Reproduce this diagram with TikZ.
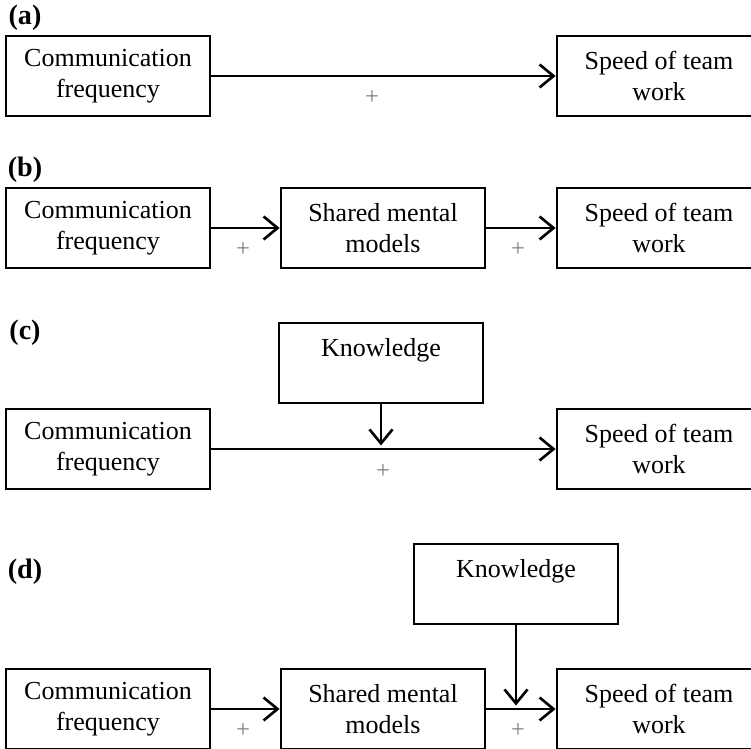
\documentclass[tikz,border=0pt]{standalone}
\usepackage{fontspec}
\setmainfont{Liberation Serif}
\usetikzlibrary{arrows.meta,positioning}
\begin{document}
\begin{tikzpicture}[x=0.02cm,y=-0.02cm,
  box/.style={draw,line width=1.6pt,minimum width=4.08cm,minimum height=1.6cm,inner sep=0pt,align=center,
    font=\fontsize{14.8}{17.6}\selectfont},
  link/.style={line width=1.5pt,-{Straight Barb[length=2.8mm,width=4.6mm,line width=1.5pt]}},
  plus/.style={text=gray,font=\fontsize{14}{14}\selectfont},
  panel/.style={font=\fontsize{16}{19}\selectfont\bfseries}]
\useasboundingbox (0,0) rectangle (751,749);
\clip (0,0) rectangle (751,749);
% (a)
\node[panel] (la) at (25,18) {(a)};
\node[box] (a1) at (108,76) {Communication\\frequency};
\node[box] (a2) at (659,76) {Speed of team\\work};
\draw[link] (a1) -- (a2);
\node[plus] (pa) at (372,98) {+};
% (b)
\node[panel] (lb) at (25,170) {(b)};
\node[box] (b1) at (108,228) {Communication\\frequency};
\node[box] (b2) at (383,228) {Shared mental\\models};
\node[box] (b3) at (659,228) {Speed of team\\work};
\draw[link] (b1) -- (b2);
\draw[link] (b2) -- (b3);
\node[plus] (pb1) at (243,250) {+};
\node[plus] (pb2) at (518,250) {+};
% (c)
\node[panel] (lc) at (25,333) {(c)};
\node[box] (c0) at (381,363) {Knowledge\\\mbox{}};
\node[box] (c1) at (108,449) {Communication\\frequency};
\node[box] (c2) at (659,449) {Speed of team\\work};
\coordinate (cm) at (c0 |- c1);
\draw[link] (c1) -- (c2);
\draw[link,shorten >=2pt] (c0) -- (cm);
\node[plus] (pc) at (383,472) {+};
% (d)
\node[panel] (ld) at (25,572) {(d)};
\node[box] (d0) at (516,584) {Knowledge\\\mbox{}};
\node[box] (d1) at (108,709) {Communication\\frequency};
\node[box] (d2) at (383,709) {Shared mental\\models};
\node[box] (d3) at (659,709) {Speed of team\\work};
\coordinate (dm) at (d0 |- d2);
\draw[link] (d1) -- (d2);
\draw[link] (d2) -- (d3);
\draw[link,shorten >=2pt] (d0) -- (dm);
\node[plus] (pd1) at (243,731) {+};
\node[plus] (pd2) at (518,731) {+};
\end{tikzpicture}
\end{document}
